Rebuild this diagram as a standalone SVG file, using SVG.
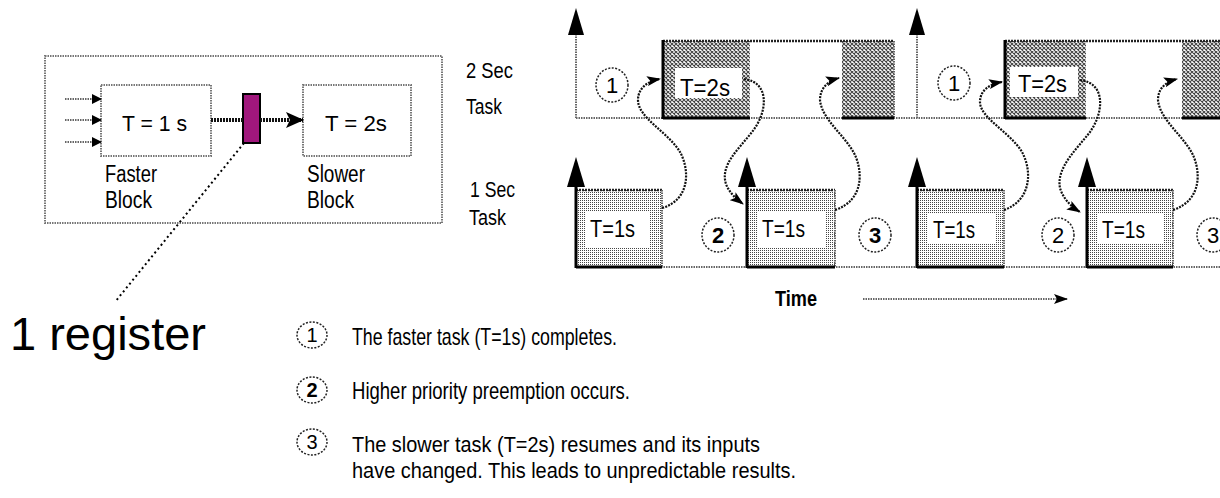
<svg xmlns="http://www.w3.org/2000/svg" width="1220" height="498" viewBox="0 0 1220 498">
<style>
.t{font-family:"Liberation Sans",Arial,sans-serif;fill:#000}
.box{fill:#fff;stroke:#777;stroke-width:2;stroke-dasharray:1.5 1}
.dl{fill:none;stroke:#666;stroke-width:2;stroke-dasharray:1.5 1}
.dk{fill:none;stroke:#222;stroke-width:2.5;stroke-dasharray:2 1}
.sol{fill:none;stroke:#000;stroke-width:3}
.cv{fill:none;stroke:#111;stroke-width:2.2;stroke-dasharray:2 1.2}
.circ{fill:#fff;stroke:#222;stroke-width:1.5;stroke-dasharray:2 1.5}
.wl{fill:#fff;stroke:none}
</style>
<defs>
<pattern id="hatch" width="4" height="4" patternUnits="userSpaceOnUse">
<rect width="4" height="4" fill="#fff"/>
<path d="M0,0 L4,4 M4,0 L0,4" stroke="#444" stroke-width="1.1"/>
</pattern>
<pattern id="stip" width="2" height="2" patternUnits="userSpaceOnUse">
<rect width="2" height="2" fill="#fff"/>
<rect width="1" height="1" fill="#444"/>
</pattern>
<marker id="ah" viewBox="0 0 14 10" refX="13" refY="5" markerWidth="14" markerHeight="10" markerUnits="userSpaceOnUse" orient="auto">
<path d="M0,0 L14,5 L0,10 L3,5 z" fill="#000"/>
</marker>
<marker id="ahs" viewBox="0 0 10 10" refX="9" refY="5" markerWidth="10" markerHeight="10" markerUnits="userSpaceOnUse" orient="auto">
<path d="M0,0 L10,5 L0,10 z" fill="#000"/>
</marker>
<marker id="ahb" viewBox="0 0 18 16" refX="17" refY="8" markerWidth="18" markerHeight="16" markerUnits="userSpaceOnUse" orient="auto">
<path d="M0,0 L18,8 L0,16 L4,8 z" fill="#000"/>
</marker>
</defs>
<rect width="1220" height="498" fill="#fff"/>

<!-- Left block diagram -->
<g id="system">
<rect x="45" y="56" width="397" height="167" class="box"/>
</g>
<g id="faster-block">
<rect x="101" y="85" width="110" height="71" class="box"/>
<text class="t" x="122" y="131" font-size="22" textLength="65" lengthAdjust="spacingAndGlyphs">T = 1 s</text>
<text class="t" x="105" y="182" font-size="23" textLength="52" lengthAdjust="spacingAndGlyphs">Faster</text>
<text class="t" x="105" y="208" font-size="23" textLength="47" lengthAdjust="spacingAndGlyphs">Block</text>
</g>
<g id="slower-block">
<rect x="303" y="85" width="108" height="71" class="box"/>
<text class="t" x="325" y="131" font-size="22" textLength="62" lengthAdjust="spacingAndGlyphs">T = 2s</text>
<text class="t" x="307" y="182" font-size="23" textLength="58" lengthAdjust="spacingAndGlyphs">Slower</text>
<text class="t" x="307" y="208" font-size="23" textLength="47" lengthAdjust="spacingAndGlyphs">Block</text>
</g>
<g id="register">
<rect x="243" y="94" width="17" height="49" fill="#a0177c" stroke="#000" stroke-width="2"/>
</g>
<g id="task-labels">
<text class="t" x="466" y="78" font-size="22" textLength="47" lengthAdjust="spacingAndGlyphs">2 Sec</text>
<text class="t" x="466" y="114" font-size="22" textLength="36" lengthAdjust="spacingAndGlyphs">Task</text>
<text class="t" x="470" y="197" font-size="22" textLength="45" lengthAdjust="spacingAndGlyphs">1 Sec</text>
<text class="t" x="469" y="225" font-size="22" textLength="37" lengthAdjust="spacingAndGlyphs">Task</text>
</g>
<g id="register-label">
<text class="t" x="10" y="350" font-size="46" textLength="196" lengthAdjust="spacingAndGlyphs">1 register</text>
</g>

<g id="left-connectors">
<line x1="65" y1="99" x2="101" y2="99" class="dl" marker-end="url(#ahs)"/>
<line x1="65" y1="120" x2="101" y2="120" class="dl" marker-end="url(#ahs)"/>
<line x1="65" y1="142" x2="101" y2="142" class="dl" marker-end="url(#ahs)"/>
<line x1="211" y1="120" x2="243" y2="120" stroke="#111" stroke-width="4" stroke-dasharray="2 1"/>
<line x1="260" y1="120" x2="303" y2="120" stroke="#111" stroke-width="4" stroke-dasharray="2 1" marker-end="url(#ahb)"/>
<line x1="244" y1="143" x2="115" y2="302" stroke="#000" stroke-width="2" stroke-dasharray="2 3"/>
</g>

<!-- Timing diagram: 2 sec lane -->
<g id="lane-2s">
<line x1="576" y1="118" x2="1220" y2="118" class="dl"/>
<line x1="576" y1="34" x2="576" y2="118" class="dl"/>
<polygon points="576,8 568,35 584,35" fill="#000"/>
<line x1="917" y1="34" x2="917" y2="118" class="dl"/>
<polygon points="917,8 909,35 925,35" fill="#000"/>
</g>
<g id="task2s-a">
<rect x="663" y="41" width="87" height="77" fill="url(#hatch)"/>
<rect x="842" y="41" width="52" height="77" fill="url(#hatch)"/>
<line x1="663" y1="41" x2="894" y2="41" class="dk"/>
<line x1="894" y1="41" x2="894" y2="118" class="dl"/>
<line x1="663" y1="40" x2="663" y2="119" class="sol"/>
<line x1="663" y1="118" x2="750" y2="118" class="sol"/>
<line x1="842" y1="118" x2="894" y2="118" class="sol"/>
<rect x="675" y="68" width="67" height="30" class="wl"/>
<text class="t" x="680" y="96" font-size="24" textLength="50" lengthAdjust="spacingAndGlyphs">T=2s</text>
</g>
<g id="task2s-b">
<rect x="1005" y="41" width="81" height="77" fill="url(#hatch)"/>
<rect x="1182" y="41" width="40" height="77" fill="url(#hatch)"/>
<line x1="1005" y1="41" x2="1220" y2="41" class="dk"/>
<line x1="1005" y1="40" x2="1005" y2="119" class="sol"/>
<line x1="1005" y1="118" x2="1086" y2="118" class="sol"/>
<line x1="1182" y1="118" x2="1220" y2="118" class="sol"/>
<rect x="1010" y="67" width="68" height="30" class="wl"/>
<text class="t" x="1018" y="92" font-size="23" textLength="49" lengthAdjust="spacingAndGlyphs">T=2s</text>
</g>

<!-- Timing diagram: 1 sec lane -->
<g id="lane-1s">
<line x1="576" y1="267" x2="1220" y2="267" class="dl"/>
</g>
<g id="task1s-a">
<rect x="576" y="190" width="86" height="77" fill="url(#stip)"/>
<line x1="576" y1="190" x2="662" y2="190" class="dk"/>
<line x1="662" y1="190" x2="662" y2="267" class="dl"/>
<line x1="576" y1="185" x2="576" y2="268" class="sol"/>
<line x1="576" y1="267" x2="662" y2="267" class="sol"/>
<polygon points="576,157 567,187 585,187" fill="#000"/>
<rect x="585" y="212" width="65" height="35" class="wl"/>
<text class="t" x="590" y="237" font-size="24" textLength="45" lengthAdjust="spacingAndGlyphs">T=1s</text>
</g>
<g id="task1s-b">
<rect x="747" y="190" width="88" height="77" fill="url(#stip)"/>
<line x1="747" y1="190" x2="835" y2="190" class="dk"/>
<line x1="835" y1="190" x2="835" y2="267" class="dl"/>
<line x1="747" y1="185" x2="747" y2="268" class="sol"/>
<line x1="747" y1="267" x2="835" y2="267" class="sol"/>
<polygon points="747,157 738,187 756,187" fill="#000"/>
<rect x="758" y="212" width="68" height="35" class="wl"/>
<text class="t" x="762" y="237" font-size="24" textLength="43" lengthAdjust="spacingAndGlyphs">T=1s</text>
</g>
<g id="task1s-c">
<rect x="917" y="190" width="87" height="77" fill="url(#stip)"/>
<line x1="917" y1="190" x2="1004" y2="190" class="dk"/>
<line x1="1004" y1="190" x2="1004" y2="267" class="dl"/>
<line x1="917" y1="185" x2="917" y2="268" class="sol"/>
<line x1="917" y1="267" x2="1004" y2="267" class="sol"/>
<polygon points="917,157 908,187 926,187" fill="#000"/>
<rect x="928" y="214" width="67" height="30" class="wl"/>
<text class="t" x="933" y="238" font-size="23" textLength="42" lengthAdjust="spacingAndGlyphs">T=1s</text>
</g>
<g id="task1s-d">
<rect x="1087" y="190" width="86" height="77" fill="url(#stip)"/>
<line x1="1087" y1="190" x2="1173" y2="190" class="dk"/>
<line x1="1173" y1="190" x2="1173" y2="267" class="dl"/>
<line x1="1087" y1="185" x2="1087" y2="268" class="sol"/>
<line x1="1087" y1="267" x2="1173" y2="267" class="sol"/>
<polygon points="1087,157 1078,187 1096,187" fill="#000"/>
<rect x="1097" y="214" width="66" height="30" class="wl"/>
<text class="t" x="1102" y="238" font-size="23" textLength="43" lengthAdjust="spacingAndGlyphs">T=1s</text>
</g>

<!-- numbered markers in timing diagram -->
<g id="mark1-a"><ellipse cx="612" cy="85" rx="16" ry="17" class="circ"/><text class="t" x="612" y="93" font-size="22" text-anchor="middle">1</text></g>
<g id="mark1-b"><ellipse cx="954" cy="83" rx="16" ry="17" class="circ"/><text class="t" x="954" y="91" font-size="22" text-anchor="middle">1</text></g>
<g id="mark2-a"><ellipse cx="718" cy="235" rx="16" ry="17" class="circ"/><text class="t" x="718" y="243" font-size="22" font-weight="bold" text-anchor="middle">2</text></g>
<g id="mark3-a"><ellipse cx="875" cy="235" rx="16" ry="17" class="circ"/><text class="t" x="875" y="243" font-size="22" font-weight="bold" text-anchor="middle">3</text></g>
<g id="mark2-b"><ellipse cx="1058" cy="235" rx="16" ry="17" class="circ"/><text class="t" x="1058" y="243" font-size="22" text-anchor="middle">2</text></g>
<g id="mark3-b"><ellipse cx="1213" cy="235" rx="16" ry="17" class="circ"/><text class="t" x="1213" y="243" font-size="22" text-anchor="middle">3</text></g>

<g id="time-axis">
<text class="t" x="775" y="306" font-size="22" font-weight="bold" textLength="42" lengthAdjust="spacingAndGlyphs">Time</text>
</g>

<g id="connectors">
<path class="cv" d="M662,208 C690,200 690,170 680,152 C668,132 638,118 638,100 C638,88 648,81 660,79" marker-end="url(#ah)"/>
<path class="cv" d="M744,79 C770,82 768,112 752,132 C738,150 720,165 726,184 C729,192 735,198 743,204" marker-end="url(#ah)"/>
<path class="cv" d="M835,210 C865,200 862,170 855,155 C845,135 822,120 820,100 C820,88 828,81 839,78" marker-end="url(#ah)"/>
<path class="cv" d="M1004,210 C1032,200 1032,170 1022,152 C1010,132 980,118 980,102 C980,90 990,84 1002,82" marker-end="url(#ah)"/>
<path class="cv" d="M1080,80 C1106,83 1104,112 1090,132 C1076,150 1056,168 1060,188 C1063,198 1070,206 1080,212" marker-end="url(#ah)"/>
<path class="cv" d="M1173,210 C1203,200 1200,170 1193,155 C1183,135 1160,120 1158,100 C1158,88 1166,82 1177,79" marker-end="url(#ah)"/>
<line x1="863" y1="299" x2="1067" y2="299" class="dl" marker-end="url(#ah)"/>
</g>

<!-- Legend -->
<g id="legend-1">
<ellipse cx="312" cy="335" rx="15" ry="13" class="circ"/>
<text class="t" x="312" y="342" font-size="20" text-anchor="middle">1</text>
<text class="t" x="352" y="345" font-size="24" textLength="265" lengthAdjust="spacingAndGlyphs">The faster task (T=1s) completes.</text>
</g>
<g id="legend-2">
<ellipse cx="312" cy="390" rx="15" ry="13" class="circ"/>
<text class="t" x="312" y="397" font-size="20" font-weight="bold" text-anchor="middle">2</text>
<text class="t" x="352" y="399" font-size="24" textLength="278" lengthAdjust="spacingAndGlyphs">Higher priority preemption occurs.</text>
</g>
<g id="legend-3">
<ellipse cx="312" cy="442" rx="15" ry="13" class="circ"/>
<text class="t" x="312" y="449" font-size="20" text-anchor="middle">3</text>
<text class="t" x="352" y="452" font-size="22" textLength="408" lengthAdjust="spacingAndGlyphs">The slower task (T=2s) resumes and its inputs</text>
<text class="t" x="352" y="478" font-size="22" textLength="444" lengthAdjust="spacingAndGlyphs">have changed. This leads to unpredictable results.</text>
</g>
</svg>
